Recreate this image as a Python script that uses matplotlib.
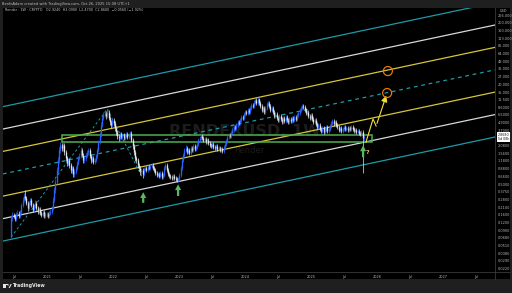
import numpy as np
import pandas as pd
import matplotlib
matplotlib.use("Agg")
import matplotlib.pyplot as plt
import matplotlib.dates as mdates
from matplotlib.patches import Rectangle, FancyArrowPatch, Circle, Polygon

# ---------------- data ----------------
first_week = "2020-06-15"
open0 = 0.070
closes = [
 0.142,0.159,0.153,0.137,0.165,0.171,0.153,0.177,0.230,0.277,
 0.321,0.298,0.247,0.206,0.247,0.277,0.230,0.191,0.221,0.247,
 0.206,0.177,0.198,0.171,0.159,0.177,0.153,0.165,0.165,0.153,
 0.171,0.177,0.206,0.277,0.401,0.540,0.842,1.22,1.77,2.13,
 1.91,2.13,1.64,1.32,1.09,1.22,1.01,0.842,0.907,0.726,
 0.782,0.907,1.09,1.32,1.42,1.77,1.47,1.22,1.32,1.47,
 1.64,1.77,1.42,1.22,1.32,1.13,1.22,1.42,1.77,2.38,
 3.09,4.48,5.81,6.49,6.99,6.26,7.26,5.81,5.00,4.48,
 5.39,4.82,4.01,3.45,2.98,2.76,3.21,2.87,3.09,2.76,
 2.98,3.21,2.87,3.09,3.33,2.57,2.05,1.64,1.32,1.22,
 1.01,0.907,0.782,0.842,0.726,0.874,0.907,0.842,0.942,0.907,
 0.977,1.01,0.907,0.842,0.754,0.700,0.726,0.674,0.754,0.650,
 0.700,0.907,1.01,0.842,0.726,0.674,0.650,0.626,0.674,0.626,
 0.603,0.581,0.603,0.700,0.907,1.22,1.47,1.77,1.91,1.64,
 1.77,1.58,1.91,1.77,2.05,1.84,1.98,2.21,2.57,2.76,
 2.98,2.76,2.57,2.66,2.38,2.57,2.30,2.13,2.05,2.21,
 1.98,1.91,2.05,1.84,1.91,1.77,1.84,1.71,1.98,2.21,
 2.47,2.87,3.09,2.98,3.33,3.72,4.16,4.01,4.48,5.00,
 4.82,5.39,6.03,5.81,6.74,7.26,6.99,7.82,7.26,8.42,
 9.41,9.07,10.52,11.33,10.14,11.76,10.14,9.07,7.82,8.42,
 7.26,8.42,9.77,10.14,9.07,7.82,8.42,7.26,6.26,6.74,
 5.81,5.39,6.26,5.60,5.00,5.81,5.20,6.03,5.39,5.00,
 5.60,5.20,5.81,5.39,6.03,5.60,6.49,6.99,7.82,8.42,
 9.07,8.74,7.82,6.99,7.26,6.26,5.81,6.49,5.60,5.00,
 5.39,4.65,4.16,4.48,3.86,3.58,4.01,3.45,3.72,4.16,
 3.58,3.86,4.31,4.82,5.20,4.65,5.00,4.48,4.16,3.72,
 4.01,3.58,3.86,4.16,3.86,4.01,3.72,4.01,3.86,4.16,
 3.86,3.58,3.72,3.45,3.58,3.33,3.21,3.45,2.76,2.87]
highs = [
 0.159,0.177,0.171,0.165,0.177,0.191,0.184,0.191,0.247,0.309,
 0.359,0.401,0.321,0.267,0.267,0.298,0.298,0.247,0.238,0.277,
 0.267,0.221,0.213,0.213,0.184,0.191,0.191,0.177,0.177,0.177,
 0.184,0.198,0.221,0.309,0.448,0.603,0.942,1.37,1.98,2.38,
 2.30,2.47,2.30,1.77,1.42,1.32,1.32,1.09,0.977,0.977,
 0.842,0.977,1.18,1.42,1.58,1.98,1.91,1.58,1.42,1.58,
 1.77,1.91,1.91,1.53,1.42,1.42,1.32,1.53,1.91,2.57,
 3.45,5.00,6.49,7.26,7.82,7.53,8.11,7.82,6.26,5.39,
 5.81,5.81,5.20,4.31,3.72,3.21,3.45,3.45,3.33,3.33,
 3.21,3.45,3.45,3.33,3.58,3.58,2.76,2.21,1.77,1.42,
 1.32,1.09,0.977,0.907,0.907,0.942,0.977,0.977,1.01,1.01,
 1.05,1.09,1.09,0.977,0.907,0.812,0.782,0.782,0.812,0.812,
 0.754,0.977,1.09,1.09,0.907,0.782,0.726,0.700,0.726,0.726,
 0.674,0.650,0.650,0.754,0.977,1.32,1.58,1.91,2.13,2.05,
 1.91,1.91,2.05,2.05,2.21,2.21,2.13,2.38,2.76,2.98,
 3.21,3.21,2.98,2.87,2.87,2.76,2.76,2.47,2.30,2.38,
 2.38,2.13,2.21,2.21,2.05,2.05,1.98,1.98,2.13,2.38,
 2.66,3.09,3.33,3.33,3.58,4.01,4.48,4.48,4.82,5.39,
 5.39,5.81,6.49,6.49,7.26,7.82,7.82,8.42,8.42,9.07,
 10.14,10.14,11.33,12.20,12.20,12.66,12.20,10.92,9.77,9.07,
 9.07,9.07,10.52,10.92,10.92,9.77,9.07,9.07,7.82,7.26,
 7.26,6.26,6.74,6.74,6.03,6.26,6.26,6.49,6.49,5.81,
 6.03,6.03,6.26,6.26,6.49,6.49,6.99,7.53,8.42,9.07,
 9.77,9.77,9.41,8.42,7.82,7.82,6.74,6.99,6.99,6.03,
 5.81,5.81,5.00,4.82,4.82,4.16,4.31,4.31,4.01,4.48,
 4.48,4.16,4.65,5.20,5.60,5.60,5.39,5.39,4.82,4.48,
 4.31,4.31,4.16,4.48,4.48,4.31,4.31,4.31,4.31,4.48,
 4.48,4.16,4.01,4.01,3.86,3.86,3.58,3.72,3.72,3.09]
lows = [
 0.0675,0.127,0.142,0.127,0.127,0.153,0.142,0.142,0.165,0.213,
 0.257,0.277,0.230,0.184,0.191,0.230,0.213,0.177,0.177,0.206,
 0.191,0.165,0.165,0.159,0.147,0.147,0.142,0.142,0.147,0.142,
 0.142,0.159,0.165,0.191,0.257,0.359,0.501,0.754,1.09,1.58,
 1.71,1.71,1.47,1.18,0.977,0.977,0.907,0.754,0.754,0.650,
 0.650,0.726,0.842,1.01,1.22,1.32,1.37,1.09,1.09,1.18,
 1.37,1.47,1.32,1.09,1.13,1.05,1.05,1.13,1.32,1.64,
 2.21,2.87,4.16,5.39,6.03,5.60,5.81,5.39,4.48,4.01,
 4.16,4.31,3.58,3.09,2.66,2.47,2.57,2.66,2.66,2.57,
 2.57,2.76,2.66,2.66,2.87,2.38,1.84,1.47,1.18,1.09,
 0.907,0.812,0.700,0.700,0.626,0.674,0.812,0.782,0.782,0.842,
 0.842,0.907,0.842,0.782,0.700,0.650,0.650,0.626,0.626,0.603,
 0.603,0.650,0.842,0.782,0.674,0.626,0.603,0.581,0.581,0.581,
 0.560,0.540,0.540,0.560,0.650,0.842,1.13,1.37,1.64,1.53,
 1.53,1.47,1.47,1.64,1.64,1.71,1.71,1.84,2.05,2.38,
 2.57,2.57,2.38,2.38,2.21,2.21,2.13,1.98,1.91,1.91,
 1.84,1.77,1.77,1.71,1.71,1.64,1.64,1.58,1.58,1.84,
 2.05,2.30,2.66,2.76,2.76,3.09,3.45,3.72,3.72,4.16,
 4.48,4.48,5.00,5.39,5.39,6.26,6.49,6.49,6.74,6.74,
 7.82,8.42,8.42,9.77,9.41,9.41,9.41,8.42,7.26,7.26,
 6.74,6.74,7.82,9.07,8.42,7.26,7.26,6.74,5.81,5.81,
 5.39,5.00,5.00,5.20,4.65,4.65,4.82,4.82,5.00,4.65,
 4.65,4.82,4.82,5.00,5.00,5.20,5.20,6.03,6.49,7.26,
 7.82,8.11,7.26,6.49,6.49,5.81,5.39,5.39,5.20,4.65,
 4.65,4.31,3.86,3.86,3.58,3.33,3.33,3.21,3.21,3.45,
 3.33,3.33,3.58,4.01,4.48,4.31,4.31,4.16,3.86,3.45,
 3.45,3.33,3.33,3.58,3.58,3.58,3.45,3.45,3.58,3.58,
 3.58,3.33,3.33,3.21,3.21,3.09,2.98,2.98,0.754,2.47]
last_price = 2.868

# parallel channel: base line anchors and level multipliers
chan_t0, chan_t1 = "2020-05-01", "2027-10-15"
chan_p0, chan_p1 = 0.0603, 2.868
chan_levels = [1.0, 2.3, 5.3, 12.1, 27.9, 64.0, 147.0]
chan_colors = ["#1d9aa8", "#d8d8d8", "#d6c43c", "#1d9aa8", "#d6c43c", "#d8d8d8", "#1d9aa8"]
chan_styles = ["-", "-", "-", (0, (3, 3)), "-", "-", "-"]

# support zone
zone_t = ("2021-03-25", "2025-12-03")
zone_p = (2.38, 3.09)

# pivot connectors (dashed)
piv_t = ["2020-06-15", "2021-11-29", "2022-06-13"]
piv_p = [0.070, 8.11, 0.626]

# up arrows (date, tail price, head price)
arrows = [("2022-06-16", 0.225, 0.41), ("2022-12-26", 0.29, 0.55), ("2025-10-15", 1.22, 2.33)]

# projected path
proj_t = ["2025-10-31", "2025-12-09", "2025-12-26", "2026-02-25"]
proj_p = [2.38, 5.60, 4.31, 14.69]

# target circles
targ_t = ["2026-02-25", "2026-03-01"]
targ_p = [14.69, 33.2]

# axis ticks
y_ticks = [266, 200, 150, 113, 85, 64, 48, 36, 27, 20, 15, 11.5, 8.6, 6.5, 4.9, 3.7,
           2.08, 1.56, 1.18, 0.88, 0.66, 0.50, 0.375, 0.28, 0.21, 0.16, 0.12, 0.09,
           0.068, 0.051, 0.038, 0.029, 0.022]
x_tick_dates = ["2020-07-01", "2021-01-01", "2021-07-01", "2022-01-01", "2022-07-01",
                "2023-01-01", "2023-07-01", "2024-01-01", "2024-07-01", "2025-01-01",
                "2025-07-01", "2026-01-01", "2026-07-01", "2027-01-01", "2027-07-01"]
x_tick_labels = ["Jul", "2021", "Jul", "2022", "Jul", "2023", "Jul", "2024", "Jul",
                 "2025", "Jul", "2026", "Jul", "2027", "Jul"]

# ---------------- figure ----------------
W, H = 512, 293
FRAME = "#1f1f1f"
fig = plt.figure(figsize=(W / 100, H / 100), dpi=100, facecolor=FRAME)

def box(x0, y0, x1, y1):
    return [x0 / W, 1 - y1 / H, (x1 - x0) / W, (y1 - y0) / H]

fig.patches.append(Rectangle((3 / W, 1 - 279 / H), 507 / W, 271 / H,
                             transform=fig.transFigure, facecolor="black",
                             edgecolor="none", zorder=-5))

ax = fig.add_axes(box(3, 8, 495, 272))
ax.set_facecolor("black")
ax.set_yscale("log")
d2n = lambda s: mdates.date2num(pd.Timestamp(s))
ax.set_xlim(d2n(chan_t0), d2n(chan_t1))
ax.set_ylim(0.0191, 345)
for s in ax.spines.values():
    s.set_visible(False)

# watermark
ax.text(0.492, 0.534, "RENDERUSD, 1W", transform=ax.transAxes, ha="center", va="center",
        fontsize=11.5, color="#1c1c1c", fontweight="bold", zorder=0)
ax.text(0.500, 0.462, "Render", transform=ax.transAxes, ha="center", va="center",
        fontsize=6, color="#1c1c1c", zorder=0)

# channel lines
t0, t1 = d2n(chan_t0), d2n(chan_t1)
for m, c, ls in zip(chan_levels, chan_colors, chan_styles):
    ax.plot([t0, t1], [chan_p0 * m, chan_p1 * m], color=c, lw=0.9, ls=ls, zorder=2)

# pivot connectors
ax.plot([d2n(t) for t in piv_t], piv_p, color="#1d9aa8", lw=0.7, ls=(0, (2.5, 2.5)), zorder=2)

# zone
zt0, zt1 = d2n(zone_t[0]), d2n(zone_t[1])
ax.add_patch(Rectangle((zt0, zone_p[0]), zt1 - zt0, zone_p[1] - zone_p[0],
                       facecolor="none", edgecolor="#4caf50", lw=1.1, zorder=3))

# candles
dates = pd.date_range(first_week, periods=len(closes), freq="7D")
xs = mdates.date2num(dates)
c = np.array(closes)
o = np.r_[open0, c[:-1]]
hi = np.array(highs)
lo = np.array(lows)
cols = np.where(c >= o, "#2962ff", "#e8e8e8")
ax.vlines(xs, lo, hi, colors=cols, lw=0.5, zorder=4)
ax.vlines(xs, np.minimum(o, c), np.maximum(o, c), colors=cols, lw=0.95, zorder=4)

# up arrows
for t, tail, head in arrows:
    ax.add_patch(FancyArrowPatch((d2n(t), tail), (d2n(t), head),
                                 arrowstyle="simple,head_length=4.2,head_width=4.4,tail_width=1.6",
                                 mutation_scale=1, color="#5cb860", lw=0, zorder=6))
ax.text(d2n("2025-11-05"), 1.62, "?", color="#e6c84a", fontsize=4.5, fontweight="bold",
        ha="center", va="center", zorder=6)

# projection
pt = [d2n(t) for t in proj_t]
ax.plot(pt[:-1], proj_p[:-1], color="#f2e03a", lw=0.8, zorder=6)
ax.annotate("", xy=(pt[-1], proj_p[-1]), xytext=(pt[-2], proj_p[-2]),
            arrowprops=dict(arrowstyle="-|>,head_length=0.35,head_width=0.18",
                            color="#f2e03a", lw=0.8), zorder=6)
ax.scatter([d2n(t) for t in targ_t], targ_p, s=42, facecolors="none",
           edgecolors="#f57c00", linewidths=0.85, zorder=7)

# axes ticks
ax.yaxis.tick_right()
ax.set_yticks(y_ticks)
ax.set_yticklabels([f"{v:.4f}" if v < 10 else f"{v:.3f}" for v in y_ticks])
ax.yaxis.set_minor_locator(matplotlib.ticker.NullLocator())
ax.tick_params(axis="y", length=0, pad=1.8, labelsize=2.5, labelcolor="#b8b8b8")
ax.set_xticks([d2n(t) for t in x_tick_dates])
ax.set_xticklabels(x_tick_labels)
ax.tick_params(axis="x", length=0, pad=2.0, labelsize=2.5, labelcolor="#b8b8b8")

# price tag
ax.annotate(f"{last_price:.4f}\n5d 08h", xy=(1.0, last_price),
            xycoords=("axes fraction", "data"), xytext=(2.2, 0), textcoords="offset points",
            ha="left", va="center", fontsize=2.3, color="#111111", linespacing=1.1,
            bbox=dict(boxstyle="square,pad=0.25", fc="white", ec="none"), zorder=10,
            annotation_clip=False)

# separators
fig.add_artist(plt.Line2D([495 / W, 495 / W], [1 - 279 / H, 1 - 8 / H], color="#3a3a3a", lw=0.6))
fig.add_artist(plt.Line2D([3 / W, 510 / W], [1 - 272 / H, 1 - 272 / H], color="#3a3a3a", lw=0.6))

# texts
fig.text(500 / W, 1 - 11 / H, "USD", fontsize=2.5, color="#b8b8b8", va="center")
fig.text(2 / W, 1 - 3.8 / H, "BenfoAdam created with TradingView.com, Oct 26, 2025 15:08 UTC+1",
         fontsize=2.6, color="#bdbdbd", va="center")
fig.text(5 / W, 1 - 10 / H,
         "Render \u00b7 1W \u00b7 CRYPTO   O2.9240  H3.0900  L2.4700  C2.8680  \u22120.0560 (\u22121.92%)",
         fontsize=2.4, color="#c8c8c8", va="center")

# TradingView logo (symbol drawn as shapes) + wordmark
lc = "#e6e6e6"
fig.patches.append(Rectangle((3 / W, 1 - 288 / H), 3.2 / W, 4 / H, transform=fig.transFigure,
                             facecolor=lc, edgecolor="none"))
fig.patches.append(Rectangle((3 / W, 1 - 285 / H), 5 / W, 1.2 / H, transform=fig.transFigure,
                             facecolor=lc, edgecolor="none"))
fig.patches.append(Circle((8.2 / W, 1 - 285 / H), 0.9 / W, transform=fig.transFigure,
                          facecolor=lc, edgecolor="none"))
fig.patches.append(Polygon([(8.6 / W, 1 - 288 / H), (10.6 / W, 1 - 284 / H), (11.8 / W, 1 - 284 / H),
                            (9.8 / W, 1 - 288 / H)], closed=True, transform=fig.transFigure,
                           facecolor=lc, edgecolor="none"))
fig.text(12.5 / W, 1 - 286 / H, "TradingView", fontsize=3.4, color=lc,
         fontweight="bold", va="center")

fig.savefig("out.png", dpi=100, facecolor=FRAME)
